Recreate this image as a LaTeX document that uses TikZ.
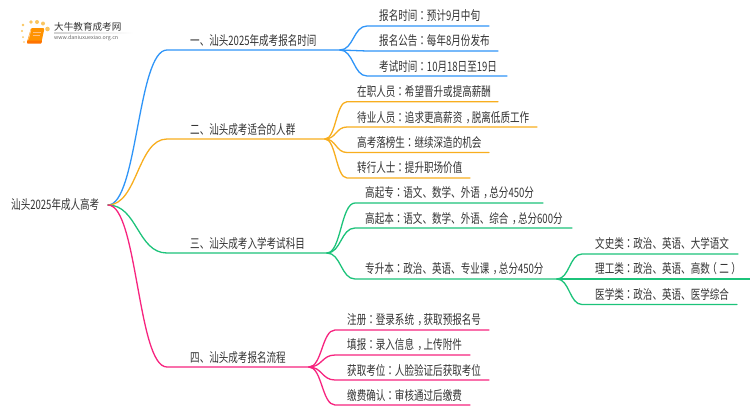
\documentclass[tikz,border=0pt]{standalone}
\usepackage{fontspec}
\usetikzlibrary{calc}
\newfontfamily\cjk[FakeStretch=0.735]{Noto Sans CJK SC}
\newfontfamily\cjkp[FakeStretch=0.735]{Noto Sans CJK TC}
\newfontfamily\logof{Noto Sans CJK SC}
\newcommand{\cl}{{\cjkp ：}}
\newcommand{\cm}{\kern3.5pt，\kern-3.5pt}
\newcommand{\pl}{\kern-2.5pt（\kern2.5pt}
\newcommand{\pr}{\kern2.5pt）\kern-2.5pt}
\definecolor{cblue}{HTML}{2F95F8}
\definecolor{corange}{HTML}{F8AE1E}
\definecolor{cgreen}{HTML}{1CC37A}
\definecolor{cpink}{HTML}{F7247F}
\definecolor{ctext}{HTML}{333333}
\tikzset{
  sc/.style={to path={let \p1=(\tikztostart),\p2=(\tikztotarget) in .. controls ({0.5*\x1+0.5*\x2},\y1) and ({0.5*\x1+0.5*\x2},\y2) .. (\tikztotarget)}},
  wire/.style={line width=1.3pt,line cap=round},
  lab/.style={anchor=west,inner sep=0pt,text=ctext,font=\cjk\fontsize{13}{15}\selectfont},
}
\begin{document}
\begin{tikzpicture}[x=1pt,y=-1pt]
\useasboundingbox (0,0) rectangle (750,410);
\fill[white] (0,0) rectangle (750,410);
% logo
\fill[corange!70!white] (23,25) circle (1.4) (31,22) circle (1.9) (37,22) circle (2) (43,23.5) circle (2) (47.5,29) circle (2.3) (22,31) circle (1.1) (23,37) circle (1) (24,42) circle (.9);
\fill[orange!85!yellow,rounded corners=1.2pt] (31,28) -- (44.5,28) -- (41.5,42) -- (27,42) -- cycle;
\fill[orange!90!red,rounded corners=.6pt] (27,40.5) -- (42,40.5) -- (41.5,43.5) -- (27,43.5) -- cycle;
\draw[white!70!orange,line width=.5pt] (28.5,39.5) -- (31,29.5);
\draw[white!50!orange,line width=.6pt] (33,32) -- (40.5,32) (32.5,35) -- (39.5,35);
\node[anchor=west,inner sep=0pt,text=ctext,font=\logof\fontsize{9.6}{11}\selectfont] (logotext) at (54,27) {大牛教育成考网};
\node[anchor=west,inner sep=0pt,text=black!60,font=\logof\fontsize{5.3}{7}\selectfont] (logourl) at (54,38.5) {www.daniuxuexiao.org.cn};
\shade[left color=black!18,right color=white] (54,32.8) rectangle (133,33.5);
% root
\node[lab] (root) at (11,205) {汕头2025年成人高考};
\coordinate (r) at (108,205);
% branches
\foreach \nm/\y/\e in {b1/50/340,b2/139/325,b3/253/327,b4/367/309}{
  \coordinate (\nm s) at (167,\y);
  \coordinate (\nm) at (\e,\y);
}
\node[lab] (t1) at (190,41) {一、汕头2025年成考报名时间};
\node[lab] (t2) at (190,130) {二、汕头成考适合的人群};
\node[lab] (t3) at (190,244) {三、汕头成考入学考试科目};
\node[lab] (t4) at (190,358) {四、汕头成考报名流程};
\draw[wire,cblue] (r) to[sc] (b1s) -- (b1);
\draw[wire,corange] (r) to[sc] (b2s) -- (b2);
\draw[wire,cgreen] (r) to[sc] (b3s) -- (b3);
\draw[wire,cpink] (r) to[sc] (b4s) -- (b4);
% blue leaves
\foreach \nm/\yy/\e in {a1/26/489,a2/51/498,a3/76/507}{
  \coordinate (\nm s) at (367,\yy); \coordinate (\nm) at (\e,\yy);
  \draw[wire,cblue] (b1) to[sc] (\nm s) -- (\nm);
}
\node[lab] (ta1) at (379,16) {报名时间\cl{}预计9月中旬};
\node[lab] (ta2) at (379,41) {报名公告\cl{}每年8月份发布};
\node[lab] (ta3) at (379,66.5) {考试时间\cl{}10月18日至19日};
% orange leaves
\foreach \nm/\yy/\e in {c1/101.7/498,c2/127/537,c3/152.5/489,c4/178/470}{
  \coordinate (\nm s) at (347,\yy); \coordinate (\nm) at (\e,\yy);
  \draw[wire,corange] (b2) to[sc] (\nm s) -- (\nm);
}
\node[lab] (tc1) at (357,91.5) {在职人员\cl{}希望晋升或提高薪酬};
\node[lab] (tc2) at (357,117.5) {待业人员\cl{}追求更高薪资\cm{}脱离低质工作};
\node[lab] (tc3) at (357,143) {高考落榜生\cl{}继续深造的机会};
\node[lab] (tc4) at (357,168) {转行人士\cl{}提升职场价值};
% green leaves
\foreach \nm/\yy/\e in {d1/203/543,d2/228/572,d3/279/557}{
  \coordinate (\nm s) at (355,\yy); \coordinate (\nm) at (\e,\yy);
  \draw[wire,cgreen] (b3) to[sc] (\nm s) -- (\nm);
}
\node[lab] (td1) at (365,193) {高起专\cl{}语文、数学、外语\cm{}总分450分};
\node[lab] (td2) at (365,218.5) {高起本\cl{}语文、数学、外语、综合\cm{}总分600分};
\node[lab] (td3) at (365,269) {专升本\cl{}政治、英语、专业课\cm{}总分450分};
% third level
\foreach \nm/\yy/\e in {e1/254/738,e2/279/750,e3/304.5/737}{
  \coordinate (\nm s) at (582,\yy); \coordinate (\nm) at (\e,\yy);
  \draw[wire,cgreen] (d3) to[sc] (\nm s) -- (\nm);
}
\node[lab] (te1) at (595,243.5) {文史类\cl{}政治、英语、大学语文};
\node[lab] (te2) at (595,269) {理工类\cl{}政治、英语、高数\pl{}二\pr{}};
\node[lab] (te3) at (595,294.5) {医学类\cl{}政治、英语、医学综合};
% pink leaves
\foreach \nm/\yy/\e in {f1/330/489,f2/355/470,f3/380/489,f4/405/470}{
  \coordinate (\nm s) at (335,\yy); \coordinate (\nm) at (\e,\yy);
  \draw[wire,cpink] (b4) to[sc] (\nm s) -- (\nm);
}
\node[lab] (tf1) at (347,320) {注册\cl{}登录系统\cm{}获取预报名号};
\node[lab] (tf2) at (347,345) {填报\cl{}录入信息\cm{}上传附件};
\node[lab] (tf3) at (347,370.5) {获取考位\cl{}人脸验证后获取考位};
\node[lab] (tf4) at (347,395.5) {缴费确认\cl{}审核通过后缴费};
\end{tikzpicture}
\end{document}
